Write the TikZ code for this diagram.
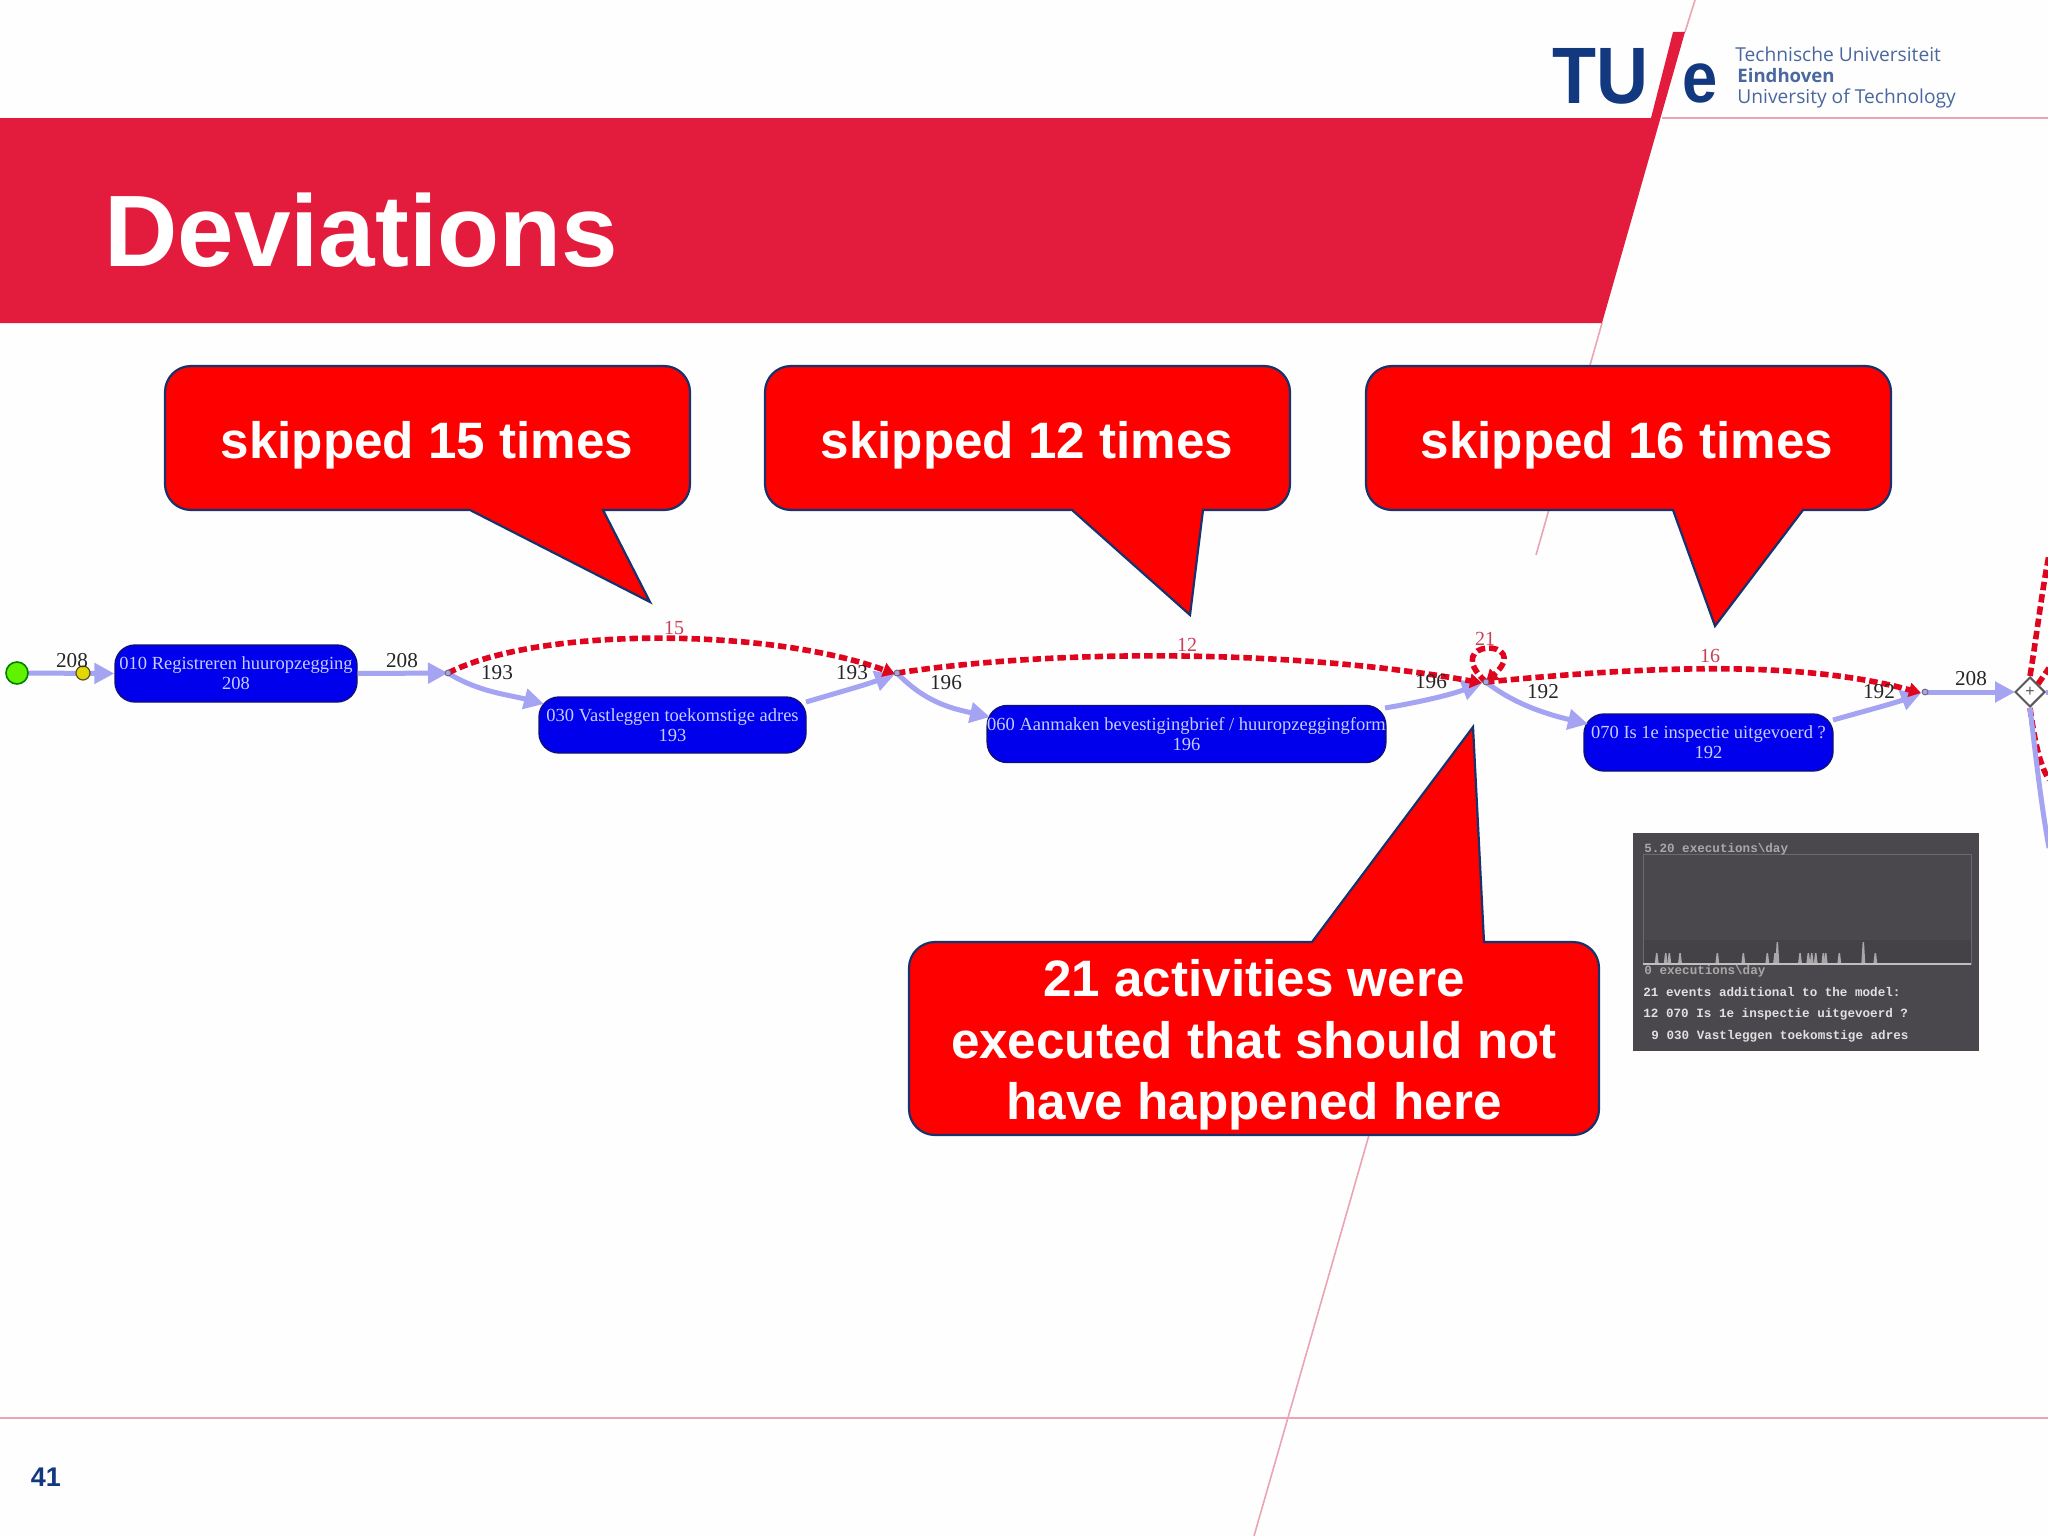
\documentclass[tikz,border=0pt]{standalone}
\usepackage{fontspec}
\setmainfont{Liberation Sans}
\newfontfamily\graphfont{Liberation Serif}
\newfontfamily\panelfont{Liberation Mono}
\newfontfamily\logofont{Open Sans}
\usetikzlibrary{arrows.meta,shapes.geometric}
\definecolor{tuered}{HTML}{E31B3D}
\definecolor{tuepink}{HTML}{EBA4B4}
\definecolor{tuenavy}{HTML}{12387F}
\definecolor{logotext}{HTML}{4A689F}
\definecolor{calloutline}{HTML}{17336E}
\definecolor{actblue}{HTML}{0000EC}
\definecolor{actline}{HTML}{10107A}
\definecolor{acttext}{HTML}{C6CCFF}
\definecolor{flowcol}{HTML}{A4A4F2}
\definecolor{skipcol}{HTML}{E0051F}
\definecolor{skiptext}{HTML}{C8405A}
\definecolor{panelbg}{HTML}{4A484C}
\definecolor{paneldark}{HTML}{444246}
\definecolor{panelbox}{HTML}{6C6A6E}
\definecolor{panelgray}{HTML}{A8A8A8}
\tikzset{
  callout/.style={fill=red,draw=calloutline,line width=1.1pt,line join=miter},
  calltext/.style={text=white,font=\fontsize{25.6}{30.75}\selectfont\bfseries,align=center,inner sep=0pt},
  activity/.style={fill=actblue,draw=actline,line width=.7pt,rounded corners=10pt,inner sep=0pt,
    text=acttext,align=center,font=\graphfont\fontsize{9.25}{10}\selectfont},
  flow/.style={draw=flowcol,line width=2.5pt,-{Triangle[length=10pt,width=10pt]}},
  flowplain/.style={draw=flowcol,line width=2.5pt},
  skipline/.style={draw=skipcol,line width=2.8pt,dash pattern=on 4.2pt off 2pt,-{Triangle[length=6pt,width=7pt]}},
  skipplain/.style={draw=skipcol,line width=2.8pt,dash pattern=on 4.2pt off 2pt},
  countlabel/.style={text=black!85,inner sep=0pt,font=\graphfont\fontsize{10.6}{12}\selectfont},
  skiplabel/.style={text=skiptext,inner sep=0pt,font=\graphfont\fontsize{10}{12}\selectfont},
  junction/.style={circle,draw=black!60,fill=flowcol,line width=.4pt,inner sep=0pt,minimum size=3pt},
  paneltext/.style={anchor=west,inner sep=0pt,text=panelgray,font=\panelfont\bfseries\fontsize{6.3}{7}\selectfont},
  panelbold/.style={anchor=west,inner sep=0pt,text=white!88!black,font=\panelfont\bfseries\fontsize{6.3}{7}\selectfont},
  logoline/.style={anchor=west,inner sep=0pt,text=logotext,font=\logofont\fontsize{9.6}{11}\selectfont},
}
\begin{document}
\begin{tikzpicture}[x=0.5pt,y=-0.5pt]
\useasboundingbox (0,0) rectangle (2048,1536);
\fill[white!99.5!black] (0,0) rectangle (2048,1536);
% thin structure lines
\draw[tuepink,line width=.8pt] (1695,0) -- (1685,32);
\draw[tuepink,line width=.8pt] (1602,323) -- (1536,555);
\draw[tuepink,line width=.8pt] (1369,1135) -- (1254,1536);
\draw[tuepink,line width=.8pt] (1662,118) -- (2048,118);
\draw[tuepink,line width=.8pt] (0,1418) -- (2048,1418);
% banner
\fill[tuered] (0,118) -- (1651,118) -- (1673,32) -- (1685,32) -- (1602,323) -- (0,323) -- cycle;
\node[anchor=base west,inner sep=0pt,text=white,font=\fontsize{50.8}{56}\selectfont\bfseries] (title) at (104,266) {Deviations};
% logo
\node[anchor=base west,inner sep=0pt,text=tuenavy,font=\fontsize{40}{44}\selectfont\bfseries,xscale=.9,transform shape] (logotu) at (1552,104) {TU};
\node[anchor=base west,inner sep=0pt,text=tuenavy,font=\fontsize{36}{40}\selectfont\bfseries,xscale=.88,transform shape] (logoe) at (1682,103) {e};
\node[logoline] (logoa) at (1735,54) {Technische Universiteit};
\node[logoline,font=\logofont\bfseries\fontsize{9.3}{11}\selectfont] (logob) at (1737,76) {Eindhoven};
\node[logoline] (logoc) at (1737,98) {University of Technology};
% page number
\node[inner sep=0pt,text=tuenavy,font=\fontsize{13.5}{15}\selectfont\bfseries] (pagenum) at (46,1477) {41};
% activities
\node[activity,minimum width=121pt,minimum height=28.5pt] (a) at (236,673.5) {010 Registreren huuropzegging\\208};
\node[activity,minimum width=133.5pt,minimum height=28pt] (b) at (672.5,725) {030 Vastleggen toekomstige adres\\193};
\node[activity,minimum width=198.5pt,minimum height=28.5pt] (c) at (1186.5,734) {060 Aanmaken bevestigingbrief / huuropzeggingform\\196};
\node[activity,minimum width=124.5pt,minimum height=28.5pt] (d) at (1708.5,742.5) {070 Is 1e inspectie uitgevoerd ?\\192};
% start, junctions, gate
\node[circle,fill=flowcol,inner sep=0pt,minimum size=0pt] (startanchor) at (17,673) {};
\coordinate (p1) at (448,673);
\coordinate (p2) at (897,673);
\coordinate (p3) at (1486,682);
\coordinate (p4) at (1925,692);
\coordinate (bin) at (544,704);
\coordinate (bout) at (806,702);
\coordinate (cin) at (990,717);
\coordinate (cout) at (1385,708);
\coordinate (din) at (1588,724);
\coordinate (dout) at (1833,720);
\coordinate (p2end) at (895,674);
\coordinate (p3end) at (1482,683);
\coordinate (p4end) at (1921,693);
% flows
\draw[flow] (startanchor) -- (a.west);
\draw[flow] (a.east) -- (p1);
\draw[flow] (p1) .. controls (478,692) and (510,695) .. (bin);
\draw[flow] (bout) .. controls (840,692) and (865,685) .. (p2end);
\draw[flow] (p2) .. controls (925,702) and (950,708) .. (cin);
\draw[flow] (cout) .. controls (1420,702) and (1450,695) .. (p3end);
\draw[flow] (p3) .. controls (1515,705) and (1550,715) .. (din);
\draw[flow] (dout) .. controls (1865,711) and (1895,703) .. (p4end);
\coordinate (gatein) at (2015,692);
\draw[flow] (p4) -- (gatein);
% skip arcs
\draw[skipline] (p1) .. controls (540,626) and (770,628) .. (p2end);
\draw[skipline] (p2) .. controls (1060,648) and (1300,650) .. (p3end);
\draw[skipline] (p3) .. controls (1650,666) and (1800,660) .. (p4end);
\draw[skipline] (p3) .. controls (1438,638) and (1534,638) .. (p3);
% right edge
\node[diamond,draw=black!65,fill=white,line width=1pt,inner sep=0pt,minimum width=15pt,minimum height=15pt,
  font=\fontsize{8}{8}\selectfont,text=black!65] (gate) at (2030,692) {+};
\coordinate (r1) at (2049,555);
\coordinate (r2) at (2049,668);
\coordinate (r3) at (2049,780);
\coordinate (r4) at (2049,848);
\coordinate (r5) at (2049,692);
\draw[skipplain] (gate.north) .. controls (2036,640) and (2042,590) .. (r1);
\draw[skipplain] (gate.north east) -- (r2);
\draw[skipplain] (gate.south) .. controls (2034,735) and (2038,762) .. (r3);
\draw[flowplain] (gate.south) .. controls (2036,760) and (2042,810) .. (r4);
\draw[flowplain] (gate.east) -- (r5);
\node[circle,draw=black!50!green,fill=green!60!yellow!95!black,line width=.8pt,inner sep=0pt,minimum size=11pt] (start) at (17,673) {};
\node[circle,draw=black!50!olive,fill=yellow!75!olive,line width=.6pt,inner sep=0pt,minimum size=7pt] (startmark) at (83,673) {};
\node[junction] (j1) at (p1) {};
\node[junction] (j2) at (p2) {};
\node[junction] (j3) at (p3) {};
\node[junction] (j4) at (p4) {};
% count labels
\node[countlabel] (l1) at (72,661) {208};
\node[countlabel] (l2) at (402,661) {208};
\node[countlabel] (l3) at (497,673) {193};
\node[countlabel] (l4) at (852,673) {193};
\node[countlabel] (l5) at (946,683) {196};
\node[countlabel] (l6) at (1431,682) {196};
\node[countlabel] (l7) at (1543,692) {192};
\node[countlabel] (l8) at (1879,692) {192};
\node[countlabel] (l9) at (1971,679) {208};
\node[skiplabel] (s1) at (674,628) {15};
\node[skiplabel] (s2) at (1187,645) {12};
\node[skiplabel] (s3) at (1485,639) {21};
\node[skiplabel] (s4) at (1710,656) {16};
% callouts
\draw[callout,rounded corners=13pt] (400,366) -- (690,366) -- (690,510) [sharp corners] -- (603,510) -- (650,602) -- (470,510) [rounded corners=13pt] -- (165,510) -- (165,366) -- cycle;
\node[calltext] (t1) at (427,445) {skipped 15 times};
\draw[callout,rounded corners=13pt] (1000,366) -- (1290,366) -- (1290,510) [sharp corners] -- (1203,510) -- (1190,615) -- (1072,510) [rounded corners=13pt] -- (765,510) -- (765,366) -- cycle;
\node[calltext] (t2) at (1027,445) {skipped 12 times};
\draw[callout,rounded corners=13pt] (1600,366) -- (1891,366) -- (1891,510) [sharp corners] -- (1803,510) -- (1715,626) -- (1673,510) [rounded corners=13pt] -- (1366,510) -- (1366,366) -- cycle;
\node[calltext] (t3) at (1627,445) {skipped 16 times};
\draw[callout,rounded corners=13pt] (1150,942) [sharp corners] -- (1312,942) -- (1473,727) -- (1484,942) [rounded corners=13pt] -- (1599,942) -- (1599,1135) -- (909,1135) -- (909,942) -- cycle;
\node[calltext] (t4) at (1254,1045) {21 activities were\\executed that should not\\have happened here};
% panel
\fill[panelbg] (1633,833) rectangle (1979,1051);
\fill[paneldark] (1643,940) rectangle (1971,964);
\draw[panelbox,line width=.5pt] (1643,854) rectangle (1971,964);
\foreach \sx/\sh in {1656.7/11,1665.7/11,1669.3/11,1680/11,1717.3/11,1743.3/11,1767.3/11,1775/11,1777.3/22,1800/11,1808.3/11,1811.7/11,1815.7/11,1823.3/11,1825.7/11,1839.3/11,1863.3/22,1875.3/11}{
  \fill[panelgray] (\sx-2,964) -- (\sx-.7,964-\sh) -- (\sx+.7,964-\sh) -- (\sx+2,964) -- cycle;
}
\draw[white!75!black,line width=.7pt] (1643,964) -- (1971,964);
\node[paneltext] (pa) at (1644,849) {5.20 executions\textbackslash day};
\node[paneltext] (pb) at (1644,971) {0 executions\textbackslash day};
\node[panelbold] (pc) at (1643,992) {21 events additional to the model:};
\node[panelbold] (pd) at (1643,1014) {12 070 Is 1e inspectie uitgevoerd ?};
\node[panelbold] (pe) at (1651,1036) {9 030 Vastleggen toekomstige adres};
\end{tikzpicture}
\end{document}
